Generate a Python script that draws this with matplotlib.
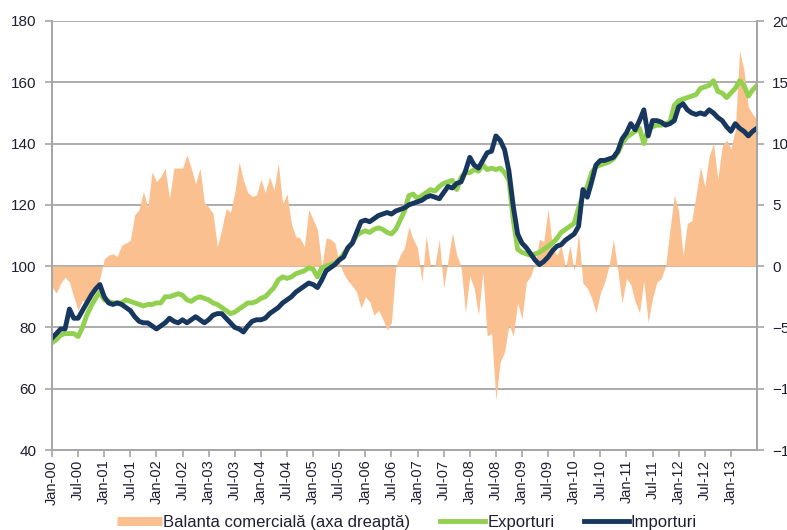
# trade balance vs exports / imports indices, monthly 2000-2013
# left axis: indices, right axis: balance (area)

import matplotlib
matplotlib.use('AGG')
import matplotlib.pyplot as plt
from matplotlib.lines import Line2D
import numpy as np

plt.rcParams['font.family'] = ['Liberation Sans', 'DejaVu Sans']

#%% data (one row per year)
exporturi = [
    75, 76, 77.5, 78, 78, 78, 77, 80, 84, 87, 89.5, 91.5,
    89, 88.5, 88, 88, 88, 89, 88.5, 88, 87.5, 87, 87.5, 87.5,
    88, 88, 90, 90, 90.5, 91, 90.5, 89, 88.5, 89.5, 90, 89.5,
    89, 88, 87.5, 86.5, 85.5, 84.5, 85, 86, 87, 88, 88, 88.5,
    89.5, 90, 91.5, 93, 95.5, 96.5, 96, 96.5, 97.5, 98, 98.5, 99.5,
    99, 96.5, 99.5, 100, 100.5, 101, 102, 104, 106, 107.5, 110, 111,
    111.5, 111, 112, 112.5, 112, 111, 110.5, 112, 115, 118, 123, 123.5,
    122, 123, 124, 125, 124.5, 126, 127, 127.5, 128, 125, 129, 130.5,
    130.5, 131.5, 131, 133, 131.5, 132, 131.5, 132, 130.5, 128, 115, 105.5,
    104.5, 104, 103.5, 104, 104.5, 105.5, 106.5, 107.5, 109, 111, 112, 113,
    114, 119, 123, 126, 130.5, 132.5, 133, 133.5, 134, 135, 137, 140,
    142, 143, 144, 145, 140, 145, 145.5, 146, 146, 146.5, 147, 152.5,
    154, 154.5, 155, 155.5, 156, 158, 158.5, 159, 160.5, 157, 156.5, 155,
    156.5, 158, 160.5, 159, 155.5, 157.5, 159]

importuri = [
    76.5, 78, 79.5, 79.5, 86, 83, 83, 85.5, 88, 90.5, 92.5, 94,
    90, 88, 87.5, 88, 87.5, 86.5, 85.5, 83.5, 82, 81.5, 81.5, 80.5,
    79.5, 80.5, 81.5, 83, 82, 81.5, 82.5, 81.5, 82.5, 83.5, 82.5, 81.5,
    82.5, 84, 84.5, 84.5, 83, 81.5, 80, 79.5, 78.5, 80.5, 82, 82.5,
    82.5, 83, 84.5, 85.5, 86.5, 88, 89, 90, 91.5, 92.5, 93.5, 94.5,
    94, 93, 95.5, 98.5, 99.5, 100.5, 102, 103, 106, 107.5, 111, 114.5,
    115, 114.5, 115.5, 116.5, 117, 117.5, 117, 118, 118.5, 119, 120, 120.5,
    121, 121.5, 122.5, 123, 122.5, 122, 124, 126, 125.5, 127, 127.5, 131,
    135.5, 133, 132, 134.5, 137, 137.5, 142.5, 141, 138, 131, 119.5, 110.5,
    107.5, 106, 104, 102, 100.5, 101.5, 103, 105, 106.5, 107, 108.5, 109.5,
    110.5, 113, 125, 122.5, 127.5, 133, 134.5, 134.5, 135, 135.5, 137.5, 141.5,
    143.5, 146.5, 144.5, 147.5, 151, 142.5, 147.5, 147.5, 147, 146, 146.5, 147.5,
    152, 153, 151, 150, 149.5, 150, 149.5, 151, 150, 148.5, 147.5, 145.5,
    144, 146.5, 145, 144, 142.5, 144, 145]

balanta = [
    -1.7, -2.2, -1.4, -0.9, -1.3, -2.5, -3.6, -2.8, -3.0, -2.7, -2.0, -1.0,
    0.6, 0.9, 1.0, 0.8, 1.7, 1.9, 2.1, 4.2, 4.6, 6.1, 4.8, 7.7,
    6.9, 7.3, 8.0, 5.5, 8.0, 8.0, 8.0, 9.1, 8.0, 6.7, 8.0, 5.2,
    4.8, 4.3, 1.6, 3.0, 4.7, 4.4, 6.0, 8.5, 7.0, 6.0, 5.7, 5.8,
    7.1, 6.0, 7.3, 6.2, 8.4, 5.1, 5.9, 3.5, 2.4, 2.3, 1.6, 4.6,
    3.8, 3.0, 0.0, 2.3, 2.2, 1.9, 0.3, -0.6, -1.2, -1.6, -2.1, -3.4,
    -2.5, -2.9, -4.0, -3.6, -4.3, -5.2, -4.6, 0.0, 0.9, 1.5, 3.2, 2.2,
    1.5, -1.3, 2.5, 0.0, 0.1, 2.2, -1.8, 0.5, 2.7, 0.9, 0.0, -3.8,
    -0.8, -1.8, -4.0, -0.5, -5.7, -5.5, -10.9, -7.8, -7.0, -4.8, -5.7, -3.0,
    -4.3, -1.3, -0.8, 0.3, 2.2, 2.0, 4.7, 1.5, 0.9, 1.7, -0.2, 1.7,
    -0.4, 2.7, -1.4, -1.8, -2.6, -3.8, -2.2, -1.3, 0.0, 2.2, -0.3, -3.0,
    -1.0, -1.5, -2.9, -3.8, -1.2, -4.6, -2.6, -1.3, -1.0, 0.0, 3.0, 5.8,
    4.5, 0.9, 3.5, 3.7, 5.8, 8.1, 6.5, 9.0, 10.0, 7.1, 9.8, 10.3,
    9.6, 11.1, 17.6, 16.0, 13.0, 12.4, 12.0]

# x tick labels every 6 months
ani = ['00', '01', '02', '03', '04', '05', '06', '07', '08', '09', '10', '11', '12', '13']
xlabels = []
for a in ani:
    xlabels += ['Jan-' + a, 'Jul-' + a]
xlabels = xlabels[:-1]   # last label is Jan-13

#%% make plot
c_bal = '#FAC090'
c_exp = '#92D050'
c_imp = '#17375E'
c_grid = '#A6A6A6'
c_txt = '#1F1F33'

nt = len(exporturi)
t = np.arange(nt)

fig = plt.figure(figsize=(7.87, 5.30), dpi=100)
ax = fig.add_axes([52/787, 80/530, 705/787, 429/530])
ax2 = ax.twinx()
# lines in front of the area
ax.set_zorder(ax2.get_zorder() + 1)
ax.patch.set_visible(False)

ax2.fill_between(t, 0, balanta, color=c_bal, linewidth=0, zorder=2)
ax2.set_ylim(-15, 20)
ax2.set_yticks(np.arange(-15, 21, 5))
ax2.grid(axis='y', color=c_grid, linewidth=1.3)
ax2.set_axisbelow(True)

l1, = ax.plot(t, exporturi, color=c_exp, linewidth=3.5, solid_joinstyle='round')
l2, = ax.plot(t, importuri, color=c_imp, linewidth=3.5, solid_joinstyle='round')
ax.set_ylim(40, 180)
ax.set_yticks(np.arange(40, 181, 20))
ax.set_xlim(0, nt - 1)
ax.set_xticks(np.arange(0, 157, 6))
ax.set_xticklabels(xlabels, rotation=90)

for a in (ax, ax2):
    for s in a.spines.values():
        s.set_color(c_grid)
        s.set_linewidth(1.3)
    a.spines['top'].set_visible(False)
    a.tick_params(direction='out', length=5, color=c_grid, width=1.2,
                  labelcolor=c_txt, labelsize=11)
ax.tick_params(axis='x', labelsize=10.5, pad=2)
ax.tick_params(axis='y', pad=6)
ax2.tick_params(axis='y', pad=6)

# legend: area shown as a thick bar
h_bal = Line2D([], [], color=c_bal, linewidth=6.5, solid_capstyle='butt')
fig.legend([h_bal, l1, l2], ['Balanta comercială (axa dreaptă)', 'Exporturi', 'Importuri'],
           loc='center', bbox_to_anchor=(0.517, 0.014), ncol=3, frameon=False,
           fontsize=12, handlelength=2.7, handletextpad=0.1, columnspacing=1.8,
           labelcolor=c_txt)

fig.savefig('out.png', dpi=100)
plt.close()
